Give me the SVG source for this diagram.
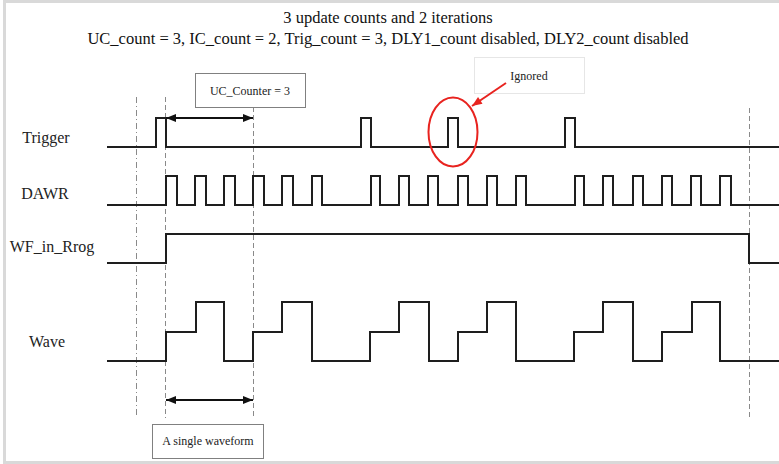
<svg xmlns="http://www.w3.org/2000/svg" width="779" height="464" viewBox="0 0 779 464">
<style>
.sig{fill:none;stroke:#1e1e1e;stroke-width:2;stroke-linejoin:miter}
.lbl{font-family:"Liberation Serif","Times New Roman",serif;font-size:16px;fill:#222;text-anchor:middle}
.ttl{font-family:"Liberation Serif","Times New Roman",serif;font-size:16.5px;fill:#111;text-anchor:middle}
.note{font-family:"Liberation Serif","Times New Roman",serif;font-size:12px;fill:#222;text-anchor:middle}
.dash{fill:none;stroke:#8a8a8a;stroke-width:1;stroke-dasharray:5,3}
.dashdot{fill:none;stroke:#8a8a8a;stroke-width:1;stroke-dasharray:6,3,1,3}
.box{fill:#fff;stroke:#808080;stroke-width:1}
.arr{fill:none;stroke:#111;stroke-width:2;marker-start:url(#ah);marker-end:url(#ah)}
</style>
<defs>
<marker id="ah" viewBox="0 0 10 8" refX="10" refY="4" markerWidth="10" markerHeight="8" markerUnits="userSpaceOnUse" orient="auto-start-reverse">
<path d="M0,0 L10,4 L0,8 Z" fill="#111"/>
</marker>
<marker id="rah" viewBox="0 0 10 8" refX="10" refY="4" markerWidth="11" markerHeight="8" markerUnits="userSpaceOnUse" orient="auto">
<path d="M0,0 L10,4 L0,8 Z" fill="#e8231f"/>
</marker>
</defs>
<rect x="0" y="0" width="779" height="464" fill="#fff"/>
<g id="frame" fill="#d9d9d9">
<rect x="3" y="0" width="776" height="3"/>
<rect x="3" y="0" width="3" height="464"/>
<rect x="3" y="461" width="776" height="3"/>
</g>
<g id="title">
<text class="ttl" x="388" y="23">3 update counts and 2 iterations</text>
<text class="ttl" x="388" y="44">UC_count = 3, IC_count = 2, Trig_count = 3, DLY1_count disabled, DLY2_count disabled</text>
</g>
<g id="guides">
<line class="dashdot" x1="136.5" y1="97" x2="136.5" y2="417"/>
<line class="dash" x1="165.5" y1="97" x2="165.5" y2="418"/>
<line class="dash" x1="253.5" y1="107" x2="253.5" y2="419"/>
<line class="dash" x1="749.5" y1="108" x2="749.5" y2="420"/>
</g>
<g id="trigger">
<text class="lbl" x="46" y="143">Trigger</text>
<path class="sig" d="M107,147 H156 V118 H166 V147 H361 V118 H371 V147 H448 V118 H458 V147 H565 V118 H575 V147 H779"/>
</g>
<g id="dawr">
<text class="lbl" x="45" y="199">DAWR</text>
<path class="sig" d="M107,205 H166 V176 H177 V205 H195 V176 H206 V205 H224 V176 H235 V205 H253 V176 H264 V205 H282 V176 H293 V205 H312 V176 H322 V205 H371 V176 H380 V205 H399 V176 H409 V205 H428 V176 H438 V205 H458 V176 H468 V205 H487 V176 H497 V205 H516 V176 H526 V205 H575 V176 H584 V205 H603 V176 H613 V205 H633 V176 H643 V205 H662 V176 H672 V205 H691 V176 H701 V205 H720 V176 H731 V205 H779"/>
</g>
<g id="wf_in_prog">
<text class="lbl" x="52" y="252">WF_in_Rrog</text>
<path class="sig" d="M107,263 H166 V234 H749 V263 H779"/>
</g>
<g id="wave">
<text class="lbl" x="47" y="347">Wave</text>
<path class="sig" d="M107,361 H166 V332 H196 V302 H224 V361 H253 V332 H282 V302 H312 V361 H370 V332 H399 V302 H429 V361 H458 V332 H487 V302 H516 V361 H574 V332 H603 V302 H633 V361 H662 V332 H692 V302 H720 V361 H779"/>
</g>
<g id="uc_counter">
<rect class="box" x="195.5" y="73.5" width="110" height="34"/>
<text class="note" x="250" y="95">UC_Counter = 3</text>
</g>
<g id="ignored">
<rect x="474.5" y="57.5" width="110" height="36" fill="#fff" stroke="#e6e6e6" stroke-width="1"/>
<text class="note" x="529" y="80">Ignored</text>
<ellipse cx="453" cy="132" rx="24.5" ry="34.5" fill="none" stroke="#e8231f" stroke-width="2"/>
</g>
<g id="single_waveform">
<rect class="box" x="152.5" y="424.5" width="111" height="34"/>
<text class="note" x="208" y="445">A single waveform</text>
</g>
<g id="connectors">
<line class="arr" x1="166" y1="118" x2="253" y2="118"/>
<line class="arr" x1="166" y1="400" x2="253" y2="400"/>
<line x1="506" y1="83" x2="472" y2="106" stroke="#e8231f" stroke-width="2" marker-end="url(#rah)"/>
</g>
</svg>
